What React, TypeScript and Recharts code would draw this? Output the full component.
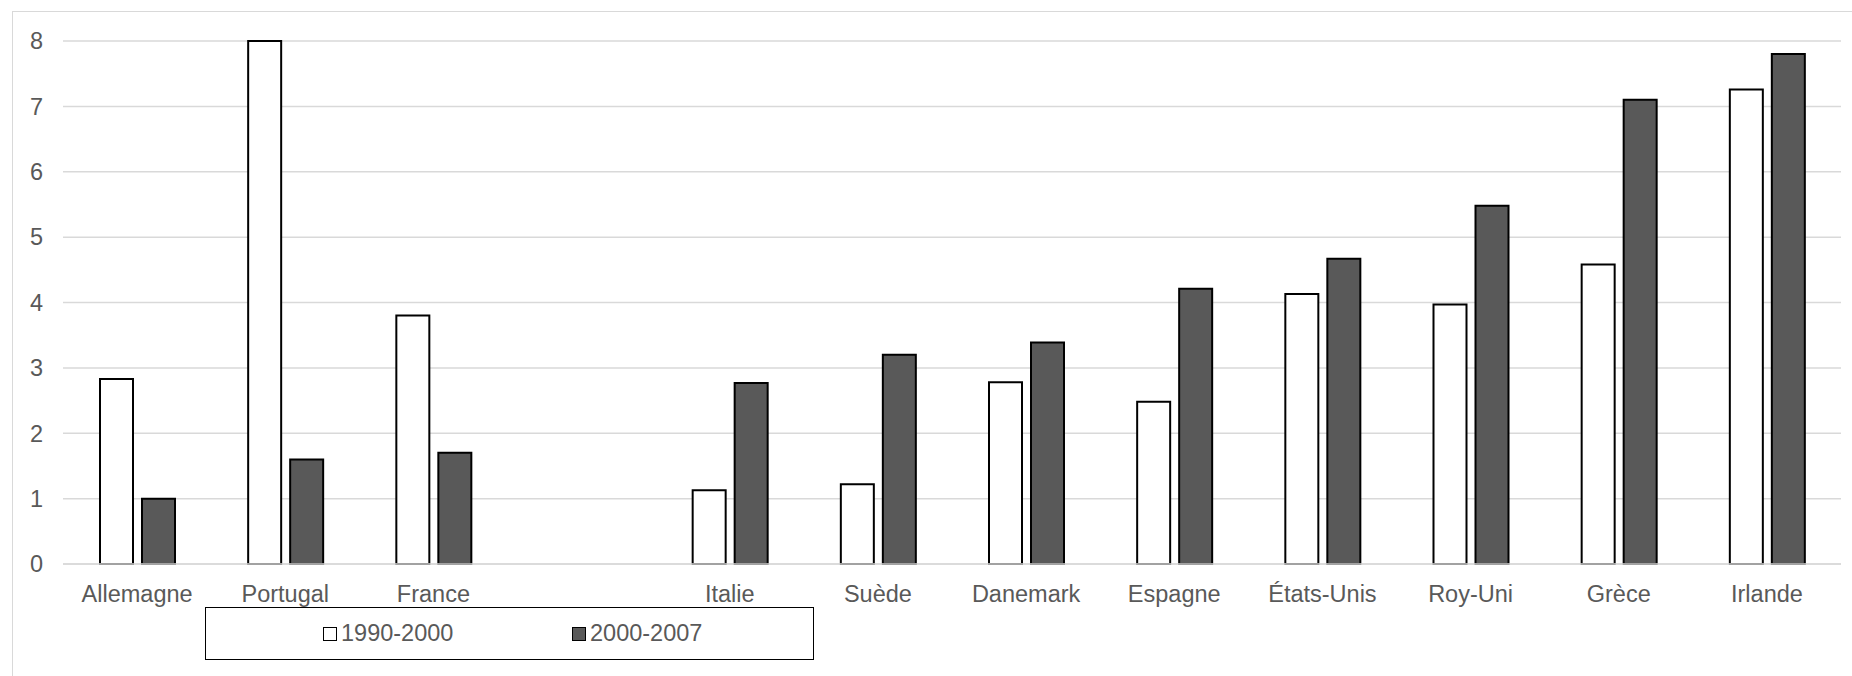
import React from 'react';
import { BarChart, Bar, XAxis, YAxis, CartesianGrid, Legend } from 'recharts';

// blank entry keeps the gap between France and Italie
const COUNTRIES = ['Allemagne', 'Portugal', 'France', '', 'Italie', 'Suède', 'Danemark', 'Espagne', 'États-Unis', 'Roy-Uni', 'Grèce', 'Irlande'];
const GROWTH_1990_2000 = [2.83, 8.0, 3.8, null, 1.13, 1.22, 2.78, 2.48, 4.13, 3.97, 4.58, 7.26];
const GROWTH_2000_2007 = [1.0, 1.6, 1.7, null, 2.77, 3.2, 3.39, 4.21, 4.67, 5.48, 7.1, 7.8];
const Y_TICKS = [0, 1, 2, 3, 4, 5, 6, 7, 8];

const SERIES = [
    { key: 'a', name: '1990-2000', fill: '#ffffff' },
    { key: 'b', name: '2000-2007', fill: '#595959' },
];

const data = COUNTRIES.map((name, i) => ({ name, a: GROWTH_1990_2000[i], b: GROWTH_2000_2007[i] }));

const FONT = 'Arial, "Liberation Sans", sans-serif';
const TEXT = '#595959';

const LegendBox = () => (
    <div
        style={{
            position: 'relative',
            width: 609,
            height: 53,
            border: '1.5px solid #000',
            boxSizing: 'border-box',
            background: '#fff',
            fontFamily: FONT,
            fontSize: 23.5,
            color: TEXT,
        }}
    >
        {SERIES.map((s, i) => (
            <div
                key={s.key}
                style={{
                    position: 'absolute',
                    left: i === 0 ? 117 : 366,
                    top: 0,
                    height: '100%',
                    display: 'flex',
                    alignItems: 'center',
                }}
            >
                <span
                    style={{
                        display: 'inline-block',
                        width: 14,
                        height: 14,
                        boxSizing: 'border-box',
                        border: '1.5px solid #000',
                        background: s.fill,
                        marginRight: 4,
                    }}
                />
                <span>{s.name}</span>
            </div>
        ))}
    </div>
);

export default function App() {
    return (
        <div style={{ position: 'absolute', left: 0, top: 0, width: 1852, height: 676, background: '#fff', overflow: 'hidden' }}>
            <div
                style={{
                    position: 'absolute',
                    left: 12,
                    top: 11,
                    width: 1900,
                    height: 700,
                    border: '1.5px solid #d9d9d9',
                }}
            />
            {/* the bottom legend's height (53) is added to the bottom margin by the chart */}
            <BarChart
                width={1852}
                height={676}
                data={data}
                margin={{ top: 41, right: 11, bottom: 29, left: 0 }}
                barSize={33}
                barGap={9}
                style={{ position: 'absolute', left: 0, top: 0 }}
            >
                <CartesianGrid vertical={false} stroke="#d9d9d9" strokeWidth={1.5} />
                <XAxis
                    dataKey="name"
                    height={30}
                    interval={0}
                    axisLine={{ stroke: '#d9d9d9', strokeWidth: 1.5 }}
                    tickLine={false}
                    tickMargin={15}
                    tick={{ fill: TEXT, fontSize: 23.5, fontFamily: FONT }}
                />
                <YAxis
                    width={63}
                    domain={[0, 8]}
                    ticks={Y_TICKS}
                    axisLine={false}
                    tickLine={false}
                    tickMargin={14}
                    tick={{ fill: TEXT, fontSize: 23.5, fontFamily: FONT }}
                />
                <Legend
                    content={() => <LegendBox />}
                    wrapperStyle={{ position: 'absolute', left: 205, top: 607, width: 609, height: 53 }}
                />
                {SERIES.map((s) => (
                    <Bar
                        key={s.key}
                        dataKey={s.key}
                        name={s.name}
                        fill={s.fill}
                        stroke="#000"
                        strokeWidth={2}
                        isAnimationActive={false}
                    />
                ))}
            </BarChart>
        </div>
    );
}
